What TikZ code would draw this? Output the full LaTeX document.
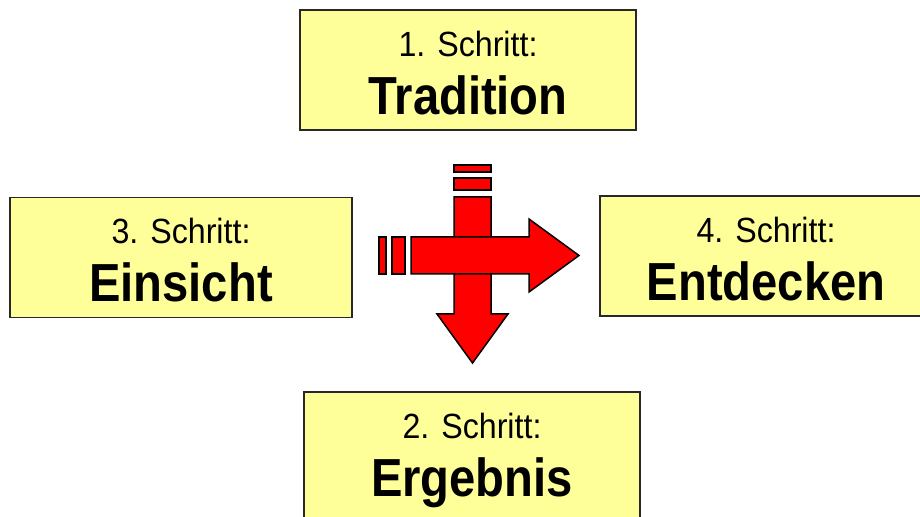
\documentclass[tikz,border=0pt]{standalone}
\usepackage{fontspec}
\setmainfont{Liberation Sans}
\newfontfamily\schmalfont[FakeStretch=0.92]{Liberation Sans}
\newfontfamily\titelfont[FakeStretch=0.88]{Liberation Sans}
\usepackage{xcolor}
\usetikzlibrary{positioning, calc}
\definecolor{stepyellow}{RGB}{255, 255, 153}
\definecolor{steprand}{RGB}{40, 40, 40}
\definecolor{pfeilrot}{RGB}{255, 0, 0}

\begin{document}
\begin{tikzpicture}[
  x=0.5pt, y=-0.5pt,
  stepbox/.style={draw=steprand, fill=stepyellow, line width=0.75pt, minimum height=60pt, inner sep=0pt},
  klein/.style={anchor=base, font=\schmalfont\fontsize{17.5}{20}\selectfont, inner sep=0pt},
  gross/.style={anchor=base, font=\titelfont\bfseries\fontsize{26.8}{31}\selectfont, inner sep=0pt},
  pfeil/.style={draw=black, fill=pfeilrot, line width=0.75pt, line join=miter}
]
  \clip (0,0) rectangle (920,517);

  % Kaesten
  \node[stepbox, minimum width=168pt] (trad) at (468, 70) {};
  \node[stepbox, minimum width=171pt] (eins) at (181, 257.5) {};
  \node[stepbox, minimum width=166pt] (entd) at (766, 256) {};
  \node[stepbox, minimum width=168pt, minimum height=70pt] (erg) at (472, 462) {};

  % Texte
  \node[klein] (tradA) at ($(trad.north)+(0,47)$) {1. Schritt:};
  \node[gross] (tradB) at ($(trad.north)+(0,105)$) {Tradition};
  \node[klein] (einsA) at ($(eins.north)+(0,47)$) {3. Schritt:};
  \node[gross] (einsB) at ($(eins.north)+(0,105)$) {Einsicht};
  \node[klein] (entdA) at ($(entd.north)+(0,47)$) {4. Schritt:};
  \node[gross] (entdB) at ($(entd.north)+(0,105)$) {Entdecken};
  \node[klein] (ergA) at ($(erg.north)+(0,47)$) {2. Schritt:};
  \node[gross] (ergB) at ($(erg.north)+(0,105)$) {Ergebnis};

  % Pfeil nach unten
  \draw[pfeil] (454,165) rectangle (491,172);
  \draw[pfeil] (454,178) rectangle (491,190);
  \draw[pfeil] (454,197) -- (491,197) -- (491,314) -- (508,314) -- (472.5,363)
    -- (437,314) -- (454,314) -- cycle;

  % Pfeil nach rechts
  \draw[pfeil] (379,237) rectangle (386,274);
  \draw[pfeil] (392,237) rectangle (405,274);
  \draw[pfeil] (411,237) -- (529,237) -- (529,219) -- (579,255.5) -- (529,292)
    -- (529,274) -- (411,274) -- cycle;
\end{tikzpicture}
\end{document}
